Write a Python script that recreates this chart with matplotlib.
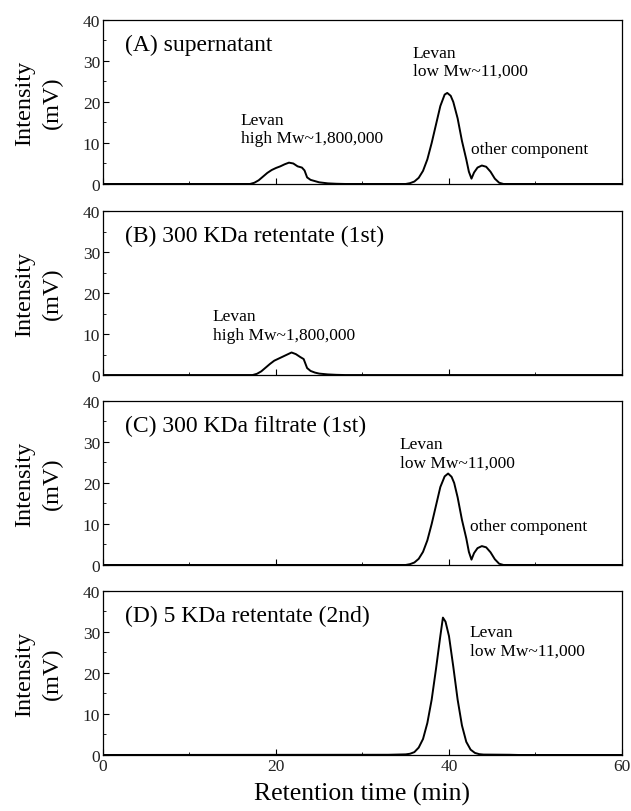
import matplotlib
matplotlib.use('Agg')
import matplotlib.pyplot as plt
from matplotlib.ticker import MultipleLocator

plt.rcParams['font.family'] = ['Liberation Serif', 'DejaVu Serif']

# (A) supernatant
t_a = [0, 17, 17.5, 18, 18.5, 19, 19.5, 20, 20.5, 21, 21.5, 22, 22.5, 23, 23.3, 23.6, 24, 24.5, 25, 26, 27, 28,
       35, 35.5, 36, 36.5, 37, 37.5, 38, 38.5, 39, 39.5, 39.8, 40.2, 40.5, 41, 41.5, 42, 42.3, 42.6,
       42.9, 43.3, 43.8, 44.3, 44.8, 45.3, 45.8, 46.3, 60]
y_a = [0, 0, 0.3, 0.9, 1.8, 2.7, 3.4, 3.9, 4.3, 4.8, 5.2, 5.0, 4.3, 4.0, 3.3, 1.6, 1.0, 0.7, 0.4, 0.15, 0.05, 0,
       0, 0.2, 0.6, 1.5, 3.2, 6.0, 10.0, 14.5, 19.0, 21.8, 22.2, 21.5, 20.0, 16.0, 10.5, 6.0, 3.0, 1.3,
       2.8, 4.0, 4.5, 4.2, 3.0, 1.3, 0.3, 0, 0]

# (B) 300 KDa retentate (1st)
t_b = [0, 17.3, 17.8, 18.3, 18.8, 19.3, 19.8, 20.3, 20.8, 21.3, 21.8, 22.3, 22.8, 23.2, 23.6, 24, 24.5, 25, 26, 27, 28, 60]
y_b = [0, 0, 0.3, 0.9, 1.8, 2.7, 3.5, 4.0, 4.5, 5.0, 5.5, 5.1, 4.4, 3.9, 1.7, 1.0, 0.6, 0.35, 0.15, 0.05, 0, 0]

# (C) 300 KDa filtrate (1st)
t_c = [0, 35, 35.5, 36, 36.5, 37, 37.5, 38, 38.5, 39, 39.5, 39.9, 40.3, 40.6, 41, 41.5, 42, 42.3, 42.6,
       42.9, 43.3, 43.8, 44.3, 44.8, 45.3, 45.8, 46.3, 60]
y_c = [0, 0, 0.2, 0.6, 1.5, 3.2, 6.0, 10.0, 14.5, 19.0, 21.6, 22.3, 21.5, 20.0, 16.5, 11.0, 6.5, 3.2, 1.3,
       2.9, 4.1, 4.6, 4.3, 3.1, 1.4, 0.3, 0, 0]

# (D) 5 KDa retentate (2nd)
t_d = [0, 33, 34, 35, 35.5, 36, 36.5, 37, 37.5, 38, 38.5, 39, 39.3, 39.6, 40, 40.5, 41, 41.5, 42, 42.5,
       43, 43.5, 44, 47, 48, 60]
y_d = [0, 0.05, 0.1, 0.15, 0.3, 0.7, 1.8, 3.9, 7.8, 13.5, 21.0, 29.0, 33.5, 32.5, 29.0, 21.5, 13.5, 7.2,
       3.2, 1.3, 0.5, 0.2, 0.1, 0.05, 0, 0]

titles = ['(A) supernatant', '(B) 300 KDa retentate (1st)',
          '(C) 300 KDa filtrate (1st)', '(D) 5 KDa retentate (2nd)']

fig = plt.figure(figsize=(6.31, 8.12), dpi=100)
bottoms = [0.7722, 0.5369, 0.3030, 0.0690]
axes = []
for b in bottoms:
    axes.append(fig.add_axes([0.1632, b, 0.8225, 0.2020]))

data = [(t_a, y_a), (t_b, y_b), (t_c, y_c), (t_d, y_d)]
for i, ax in enumerate(axes):
    t, y = data[i]
    ax.plot(t, y, color='black', lw=1.4)
    ax.set_xlim(0, 60)
    ax.set_ylim(0, 40)
    ax.xaxis.set_major_locator(MultipleLocator(20))
    ax.xaxis.set_minor_locator(MultipleLocator(10))
    ax.yaxis.set_major_locator(MultipleLocator(10))
    ax.yaxis.set_minor_locator(MultipleLocator(5))
    ax.tick_params(which='both', direction='in', labelsize=12.5, pad=2, labelcolor='#222222')
    ax.tick_params(which='major', length=4)
    ax.tick_params(which='minor', length=2.5)
    for s in ax.spines.values():
        s.set_linewidth(0.9)
    if i < 3:
        ax.set_xticklabels([])
    ax.set_ylabel('Intensity\n(mV)', fontsize=17.5, linespacing=1.45, labelpad=14)
    ax.text(2.5, 34.0, titles[i], fontsize=17, va='center', ha='left')

fs = 12.5
axes[0].text(15.9, 17.6, 'Levan\nhigh Mw~1,800,000', fontsize=fs, va='top', linespacing=1.2)
axes[0].text(35.8, 34.0, 'Levan\nlow Mw~11,000', fontsize=fs, va='top', linespacing=1.2)
axes[0].text(42.6, 8.5, 'other component', fontsize=fs, va='center')
axes[1].text(12.7, 16.3, 'Levan\nhigh Mw~1,800,000', fontsize=fs, va='top', linespacing=1.2)
axes[2].text(34.3, 31.5, 'Levan\nlow Mw~11,000', fontsize=fs, va='top', linespacing=1.2)
axes[2].text(42.4, 9.5, 'other component', fontsize=fs, va='center')
axes[3].text(42.4, 32.0, 'Levan\nlow Mw~11,000', fontsize=fs, va='top', linespacing=1.2)

axes[3].set_xlabel('Retention time (min)', fontsize=18.5, labelpad=6)

fig.savefig('out.png', dpi=100)
